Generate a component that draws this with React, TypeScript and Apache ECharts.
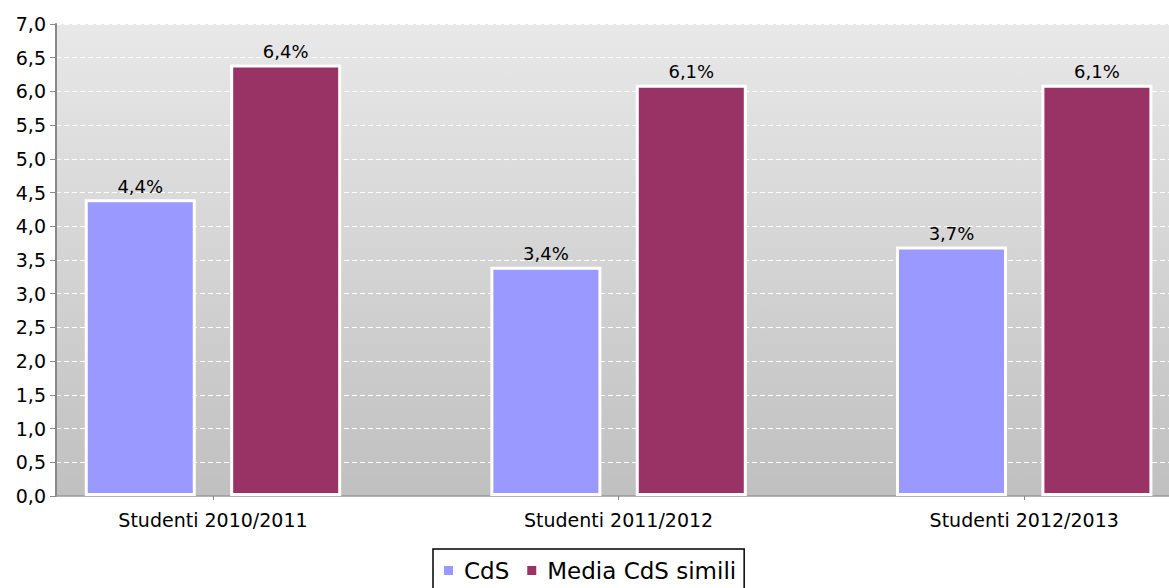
import React, { useEffect, useRef } from "react";
import * as echarts from "echarts";

const categories = ["Studenti 2010/2011", "Studenti 2011/2012", "Studenti 2012/2013"];
const seriesNames = ["CdS", "Media CdS simili"];
const cdsValues = [4.4, 3.4, 3.7];
const mediaValues = [6.4, 6.1, 6.1];
const colors = ["#9999ff", "#993366"];

const fmt = (v: number, d = 1) => v.toFixed(d).replace(".", ",");

export default function App() {
  const ref = useRef<HTMLDivElement>(null);
  useEffect(() => {
    if (!ref.current) return;
    const chart = echarts.init(ref.current, undefined, { renderer: "svg" });
    const font = "DejaVu Sans";
    const mk = (vals: number[]) => vals.map((v, i) => [i, v]);
    chart.setOption({
      animation: false,
      textStyle: { fontFamily: font },
      grid: {
        left: 56,
        right: 0,
        top: 24,
        bottom: 92,
        show: true,
        borderWidth: 0,
        backgroundColor: new echarts.graphic.LinearGradient(0, 0, 0, 1, [
          { offset: 0, color: "#e8e8e8" },
          { offset: 1, color: "#c0c0c0" },
        ]),
      },
      legend: {
        data: seriesNames,
        left: 433,
        top: 549,
        orient: "horizontal",
        itemWidth: 11,
        itemHeight: 11,
        itemGap: 16,
        icon: "rect",
        borderColor: "#000",
        borderWidth: 1.5,
        padding: [10, 8, 10, 9],
        textStyle: { fontFamily: font, fontSize: 23, color: "#000", padding: [0, 0, 0, 5] },
      },
      xAxis: {
        type: "value",
        min: -0.387,
        max: 2.357,
        splitLine: { show: false },
        axisLine: { show: true, onZero: false, lineStyle: { color: "#999", width: 1.5 } },
        axisTick: { show: true, customValues: [0, 1, 2], length: 4, lineStyle: { color: "#888" } },
        axisLabel: {
          customValues: [0, 1, 2],
          formatter: (v: number) => categories[Math.round(v)] ?? "",
          fontFamily: font,
          fontSize: 19,
          color: "#000",
          margin: 14,
        },
      },
      yAxis: {
        type: "value",
        min: 0,
        max: 7,
        interval: 0.5,
        axisLine: { show: true, onZero: false, lineStyle: { color: "#888", width: 2 } },
        axisTick: { show: true, length: 6, lineStyle: { color: "#888" } },
        axisLabel: {
          formatter: (v: number) => fmt(v),
          fontFamily: font,
          fontSize: 19,
          color: "#000",
          margin: 10,
        },
        splitLine: { show: true, lineStyle: { color: "#ffffff", type: [5, 3], width: 1 } },
      },
      series: [
        { name: seriesNames[0], data: mk(cdsValues), color: colors[0] },
        { name: seriesNames[1], data: mk(mediaValues), color: colors[1] },
      ].map((s) => ({
        type: "bar",
        name: s.name,
        data: s.data,
        barWidth: 111,
        barGap: "31%",
        itemStyle: { color: s.color, borderColor: "#ffffff", borderWidth: 3 },
        label: {
          show: true,
          position: "top",
          distance: 4,
          formatter: (p: any) => fmt(p.value[1]) + "%",
          fontFamily: font,
          fontSize: 18,
          color: "#000",
        },
      })),
    });
    return () => chart.dispose();
  }, []);
  return (
    <div
      ref={ref}
      style={{ position: "absolute", left: 0, top: 0, width: 1169, height: 588, background: "#fff" }}
    />
  );
}
